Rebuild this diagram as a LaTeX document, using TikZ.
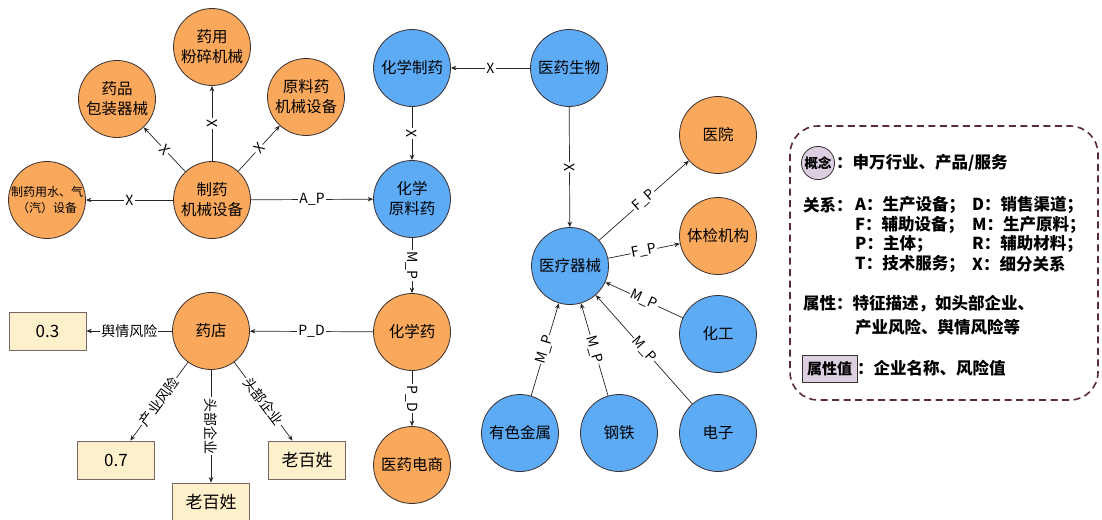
\documentclass[tikz,border=0pt]{standalone}
\usepackage{fontspec}
\setmainfont{Noto Sans CJK SC}
\usetikzlibrary{arrows.meta}
\definecolor{orangeC}{HTML}{F9A85C}
\definecolor{blueC}{HTML}{5DAAF5}
\definecolor{nodeborder}{HTML}{3A3030}
\definecolor{boxfill}{HTML}{FFF0CC}
\definecolor{boxborder}{HTML}{7A6666}
\definecolor{legborder}{HTML}{5B2B3B}
\definecolor{lavender}{HTML}{DCCFE2}
\begin{document}
\begin{tikzpicture}[x=1pt,y=-1pt,
 circ/.style={circle, minimum size=77pt, inner sep=0pt, draw=nodeborder, line width=0.8pt, align=center, font=\fontsize{15.5}{20}\selectfont},
 orangenode/.style={circ, fill=orangeC},
 bluenode/.style={circ, fill=blueC},
 valbox/.style={rectangle, minimum width=77pt, minimum height=38pt, fill=boxfill, draw=boxborder, line width=0.8pt, font=\fontsize{17}{19}\selectfont},
 edge/.style={draw=black!85, line width=0.7pt, -{Stealth[length=5.5pt,width=4.5pt]}},
 lab/.style={fill=white, inner sep=1.2pt, sloped, font=\fontsize{14}{14}\selectfont},
 cnlab/.style={lab, font=\fontsize{14}{14}\selectfont},
 legtext/.style={anchor=west, inner sep=0pt, font=\bfseries\fontsize{16.5}{17}\selectfont},
]
\useasboundingbox[fill=white] (0,0) rectangle (1102,519);

% left cluster
\node[orangenode] (fensui) at (212,47) {药用\\粉碎机械};
\node[orangenode] (baozhuang) at (117,99) {药品\\包装器械};
\node[orangenode] (yuanliaojx) at (306,97) {原料药\\机械设备};
\node[orangenode] (zhiyaojx) at (212,200) {制药\\机械设备};
\node[orangenode, font=\fontsize{12}{16}\selectfont] (water) at (47,200) {制药用水、气\\（汽）设备};

% middle
\node[bluenode] (huaxuezy) at (412,68) {化学制药};
\node[bluenode] (yiyaosw) at (569,68) {医药生物};
\node[bluenode] (yuanliaoyao) at (412,199) {化学\\原料药};
\node[orangenode] (huaxueyao) at (412,332) {化学药};
\node[orangenode] (dianshang) at (412,465) {医药电商};
\node[orangenode] (yaodian) at (211,331) {药店};

% value boxes
\node[valbox] (v03) at (47.5,331) {0.3};
\node[valbox] (v07) at (116,460) {0.7};
\node[valbox] (lbx1) at (211,502) {老百姓};
\node[valbox] (lbx2) at (307,460) {老百姓};

% right cluster
\node[bluenode] (qixie) at (570,266) {医疗器械};
\node[orangenode] (yiyuan) at (718,135) {医院};
\node[orangenode] (tijian) at (718,236) {体检机构};
\node[bluenode] (huagong) at (718,334) {化工};
\node[bluenode] (youse) at (520,433) {有色金属};
\node[bluenode] (gangtie) at (619,433) {钢铁};
\node[bluenode] (dianzi) at (718,433) {电子};

% edges left cluster
\draw[edge] (zhiyaojx) -- node[lab]{X} (water);
\draw[edge] (zhiyaojx) -- node[lab]{X} (baozhuang);
\draw[edge] (zhiyaojx) -- node[lab]{X} (fensui);
\draw[edge] (zhiyaojx) -- node[lab]{X} (yuanliaojx);
\draw[edge] (zhiyaojx) -- node[lab]{A\_P} (yuanliaoyao);

% middle edges
\draw[edge] (yiyaosw) -- node[lab]{X} (huaxuezy);
\draw[edge] (huaxuezy) -- node[lab]{X} (yuanliaoyao);
\draw[edge] (yuanliaoyao) -- node[lab]{M\_P} (huaxueyao);
\draw[edge] (huaxueyao) -- node[lab]{P\_D} (dianshang);
\draw[edge] (huaxueyao) -- node[lab]{P\_D} (yaodian);

% pharmacy edges
\draw[edge] (yaodian) -- node[cnlab]{舆情风险} (v03);
\draw[edge] (yaodian) -- node[cnlab]{产业风险} (v07);
\draw[edge] (yaodian) -- node[cnlab]{头部企业} (lbx1);
\draw[edge] (yaodian) -- node[cnlab]{头部企业} (lbx2);

% right edges
\draw[edge] (yiyaosw) -- node[lab]{X} (qixie);
\draw[edge] (qixie) -- node[lab]{F\_P} (yiyuan);
\draw[edge] (qixie) -- node[lab]{F\_P} (tijian);
\draw[edge] (huagong) -- node[lab]{M\_P} (qixie);
\draw[edge] (youse) -- node[lab]{M\_P} (qixie);
\draw[edge] (gangtie) -- node[lab]{M\_P} (qixie);
\draw[edge] (dianzi) -- node[lab]{M\_P} (qixie);

% legend
\draw[legborder, line width=1.6pt, dash pattern=on 7pt off 4.5pt, rounded corners=28pt] (790,126) rectangle (1098,400);
\node[circle, fill=lavender, draw=nodeborder, line width=0.8pt, inner sep=1.2pt, font=\bfseries\fontsize{13.5}{14}\selectfont] (gn) at (818,163) {概念};
\node[legtext] (gnt) at (836,163) {：申万行业、产品/服务};
\node[legtext] (gx) at (803,205) {关系：};
\node[legtext] (gxa) at (855,205) {A：生产设备；};
\node[legtext] (gxd) at (972,205) {D：销售渠道；};
\node[legtext] (gxf) at (855,225) {F：辅助设备；};
\node[legtext] (gxm) at (972,225) {M：生产原料；};
\node[legtext] (gxp) at (855,244) {P：主体；};
\node[legtext] (gxr) at (972,244) {R：辅助材料；};
\node[legtext] (gxt) at (855,264) {T：技术服务；};
\node[legtext] (gxx) at (972,264) {X：细分关系};
\node[legtext] (sx) at (803,304) {属性：特征描述，如头部企业、};
\node[legtext] (sx2) at (855,327) {产业风险、舆情风险等};
\node[rectangle, fill=lavender, draw=nodeborder, line width=0.8pt, minimum width=55pt, minimum height=27pt, inner sep=0pt, font=\bfseries\fontsize{15}{16}\selectfont] (sxz) at (829.5,368.5) {属性值};
\node[legtext] (sxzt) at (857,368) {：企业名称、风险值};
\end{tikzpicture}
\end{document}
